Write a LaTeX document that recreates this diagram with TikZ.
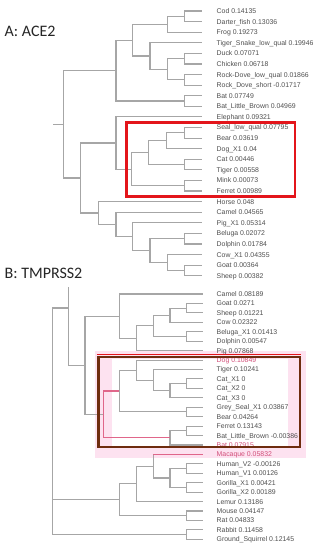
\documentclass[tikz,border=0pt]{standalone}
\usepackage{fontspec}
\setmainfont{Liberation Sans}
\newfontfamily\ttlfont{Carlito}
\definecolor{lngray}{HTML}{A6A6A6}
\definecolor{txt}{HTML}{505050}
\definecolor{pinkln}{HTML}{E0668A}
\definecolor{pinktx}{HTML}{D2507A}
\definecolor{pinkbg}{HTML}{FDE2F0}
\definecolor{boxred}{HTML}{E3151B}
\definecolor{boxbrown}{HTML}{6E2C0E}
\tikzset{
  br/.style={draw=lngray,line width=1.1pt},
  pk/.style={draw=pinkln,line width=1.1pt},
  lab/.style={anchor=west,font=\fontsize{6.9}{7}\selectfont,text=txt,inner sep=0pt,text height=5pt,text depth=0pt},
  ttl/.style={anchor=base west,font=\ttlfont\fontsize{16}{16}\selectfont,text=black!85,inner sep=0pt},
}
\newcommand\leafA[3]{\coordinate (#1) at (202,#2); \node[lab] (#1t) at (216.5,#2) {#3};}
\newcommand\leafB[3]{\coordinate (#1) at (203.3,#2); \node[lab] (#1t) at (216.5,#2) {#3};}
\newcommand\leafBp[3]{\coordinate (#1) at (203.3,#2); \node[lab,text=pinktx] (#1t) at (216.5,#2) {#3};}
\newcommand\edg[2]{\draw[br] (#1) |- (#2);}
\begin{document}
\begin{tikzpicture}[x=1pt,y=-1pt]
\fill[white] (0,0) rectangle (320,550);
\useasboundingbox (0,0) rectangle (320,550);
% pink highlight of B
\fill[pinkbg] (95,351) rectangle (306,458);
\fill[white] (112,359) rectangle (288,446);
% titles
\node[ttl] (tA) at (4.5,36) {A: ACE2};
\node[ttl] (tB) at (4.5,278) {B: TMPRSS2};
% ---------------- Tree A leaves
\leafA{a1}{11}{Cod 0.14135}
\leafA{a2}{21.59}{Darter\_fish 0.13036}
\leafA{a3}{32.18}{Frog 0.19273}
\leafA{a4}{42.77}{Tiger\_Snake\_low\_qual 0.19946}
\leafA{a5}{53.36}{Duck 0.07071}
\leafA{a6}{63.95}{Chicken 0.06718}
\leafA{a7}{74.54}{Rock-Dove\_low\_qual 0.01866}
\leafA{a8}{85.13}{Rock\_Dove\_short -0.01717}
\leafA{a9}{95.72}{Bat 0.07749}
\leafA{a10}{106.31}{Bat\_Little\_Brown 0.04969}
\leafA{a11}{116.9}{Elephant 0.09321}
\leafA{a12}{127.49}{Seal\_low\_qual 0.07795}
\leafA{a13}{138.08}{Bear 0.03619}
\leafA{a14}{148.67}{Dog\_X1 0.04}
\leafA{a15}{159.26}{Cat 0.00446}
\leafA{a16}{169.85}{Tiger 0.00558}
\leafA{a17}{180.44}{Mink 0.00073}
\leafA{a18}{191.03}{Ferret 0.00989}
\leafA{a19}{201.62}{Horse 0.048}
\leafA{a20}{212.21}{Camel 0.04565}
\leafA{a21}{222.8}{Pig\_X1 0.05314}
\leafA{a22}{233.39}{Beluga 0.02072}
\leafA{a23}{243.98}{Dolphin 0.01784}
\leafA{a24}{254.57}{Cow\_X1 0.04355}
\leafA{a25}{265.16}{Goat 0.00364}
\leafA{a26}{275.75}{Sheep 0.00382}
% Tree A internal nodes
\coordinate (nA1) at (184.3,16.3);
\coordinate (nA2) at (167.7,24.24);
\coordinate (nA3) at (184.3,58.66);
\coordinate (nA4) at (184.3,79.84);
\coordinate (nA5) at (167.7,69.25);
\coordinate (nA6) at (150,56.01);
\coordinate (nA7) at (132.7,40.12);
\coordinate (nA8) at (184.3,101.0);
\coordinate (nA9) at (116,70.57);
\coordinate (nA10) at (184.3,132.78);
\coordinate (nA11) at (166.7,140.73);
\coordinate (nA12) at (184.3,164.55);
\coordinate (nA13) at (148.3,152.64);
\coordinate (nA14) at (184.3,185.73);
\coordinate (nA15) at (131.7,169.19);
\coordinate (nA16) at (116,143.04);
\coordinate (nA17) at (184.3,238.68);
\coordinate (nA18) at (184.3,270.45);
\coordinate (nA19) at (167.7,262.51);
\coordinate (nA20) at (150,250.6);
\coordinate (nA21) at (132.7,236.7);
\coordinate (nA22) at (116,224.45);
\coordinate (nA23) at (98.3,213.04);
\coordinate (nA24) at (80.7,178.04);
\coordinate (rA) at (63.3,124.3);
\coordinate (rAs) at (53.3,124.3);
% Tree A edges
\edg{nA1}{a1}\edg{nA1}{a2}
\edg{nA2}{nA1}\edg{nA2}{a3}
\edg{nA3}{a5}\edg{nA3}{a6}
\edg{nA4}{a7}\edg{nA4}{a8}
\edg{nA5}{nA3}\edg{nA5}{nA4}
\edg{nA6}{a4}\edg{nA6}{nA5}
\edg{nA7}{nA2}\edg{nA7}{nA6}
\edg{nA8}{a9}\edg{nA8}{a10}
\edg{nA9}{nA7}\edg{nA9}{nA8}
\edg{nA10}{a12}\edg{nA10}{a13}
\edg{nA11}{nA10}\edg{nA11}{a14}
\edg{nA12}{a15}\edg{nA12}{a16}
\edg{nA13}{nA11}\edg{nA13}{nA12}
\edg{nA14}{a17}\edg{nA14}{a18}
\edg{nA15}{nA13}\edg{nA15}{nA14}
\edg{nA16}{a11}\edg{nA16}{nA15}
\edg{nA17}{a22}\edg{nA17}{a23}
\edg{nA18}{a25}\edg{nA18}{a26}
\edg{nA19}{a24}\edg{nA19}{nA18}
\edg{nA20}{nA17}\edg{nA20}{nA19}
\edg{nA21}{a21}\edg{nA21}{nA20}
\edg{nA22}{a20}\edg{nA22}{nA21}
\edg{nA23}{a19}\edg{nA23}{nA22}
\edg{nA24}{nA16}\edg{nA24}{nA23}
\edg{rA}{nA9}\edg{rA}{nA24}
\draw[br] (rAs) -- (rA);
% ---------------- Tree B leaves
\leafB{b1}{294}{Camel 0.08189}
\leafB{b2}{303.44}{Goat 0.0271}
\leafB{b3}{312.87}{Sheep 0.01221}
\leafB{b4}{322.31}{Cow 0.02322}
\leafB{b5}{331.74}{Beluga\_X1 0.01413}
\leafB{b6}{341.18}{Dolphin 0.00547}
\leafB{b7}{350.61}{Pig 0.07868}
\leafBp{b8}{360.05}{Dog 0.10849}
\leafB{b9}{369.48}{Tiger 0.10241}
\leafB{b10}{378.92}{Cat\_X1 0}
\leafB{b11}{388.35}{Cat\_X2 0}
\leafB{b12}{397.79}{Cat\_X3 0}
\leafB{b13}{407.22}{Grey\_Seal\_X1 0.03867}
\leafB{b14}{416.66}{Bear 0.04264}
\leafB{b15}{426.09}{Ferret 0.13143}
\leafB{b16}{435.53}{Bat\_Little\_Brown -0.00386}
\leafBp{b17}{444.96}{Bat 0.07915}
\leafBp{b18}{454.4}{Macaque 0.05832}
\leafB{b19}{463.83}{Human\_V2 -0.00126}
\leafB{b20}{473.27}{Human\_V1 0.00126}
\leafB{b21}{482.7}{Gorilla\_X1 0.00421}
\leafB{b22}{492.14}{Gorilla\_X2 0.00189}
\leafB{b23}{501.57}{Lemur 0.13186}
\leafB{b24}{511.01}{Mouse 0.04147}
\leafB{b25}{520.44}{Rat 0.04833}
\leafB{b26}{529.88}{Rabbit 0.11458}
\leafB{b27}{539.31}{Ground\_Squirrel 0.12145}
% Tree B internal nodes
\coordinate (nB1) at (186.7,308.16);
\coordinate (nB2) at (170,315.23);
\coordinate (nB3) at (186.7,336.46);
\coordinate (nB4) at (153.3,325.85);
\coordinate (nB5) at (136.7,338.23);
\coordinate (nB6) at (119.3,316.12);
\coordinate (nB7) at (186.7,383.64);
\coordinate (nB8) at (170,390.71);
\coordinate (nB9) at (153.3,380.1);
\coordinate (nB10) at (136.2,370.07);
\coordinate (nB11) at (186.7,411.94);
\coordinate (nB12) at (119.3,391.0);
\coordinate (nB13) at (186.7,430.81);
\coordinate (nB14) at (170,437.89);
\coordinate (nB15) at (103.3,414.45);
\coordinate (nB16) at (85,365.28);
\coordinate (nB17) at (68.3,308);
\coordinate (nB17t) at (68.3,287.3);
\coordinate (nB18) at (186.7,468.55);
\coordinate (nB19) at (186.7,487.42);
\coordinate (nB20) at (170,477.99);
\coordinate (nB21) at (153.3,466.2);
\coordinate (nB22) at (136.7,483.88);
\coordinate (nB23) at (186.7,515.73);
\coordinate (nB24) at (119.3,499.8);
\coordinate (nB25) at (186.7,534.6);
\coordinate (rB) at (52.3,308);
% Tree B edges
\edg{nB1}{b2}\edg{nB1}{b3}
\edg{nB2}{nB1}\edg{nB2}{b4}
\edg{nB3}{b5}\edg{nB3}{b6}
\edg{nB4}{nB2}\edg{nB4}{nB3}
\edg{nB5}{nB4}\edg{nB5}{b7}
\edg{nB6}{b1}\edg{nB6}{nB5}
\edg{nB7}{b10}\edg{nB7}{b11}
\edg{nB8}{nB7}\edg{nB8}{b12}
\edg{nB9}{b9}\edg{nB9}{nB8}
\edg{nB10}{b8}\edg{nB10}{nB9}
\edg{nB11}{b13}\edg{nB11}{b14}
\edg{nB12}{nB10}\edg{nB12}{nB11}
\edg{nB13}{b15}\edg{nB13}{b16}
\edg{nB14}{nB13}\edg{nB14}{b17}
\draw[pk] (nB15) |- (nB12);
\draw[pk] (nB15) |- (nB14);
\edg{nB16}{nB6}\edg{nB16}{nB15}
\draw[br] (nB17t) -- (nB17);
\edg{nB17}{nB16}
\edg{nB18}{b19}\edg{nB18}{b20}
\edg{nB19}{b21}\edg{nB19}{b22}
\edg{nB20}{nB18}\edg{nB20}{nB19}
\draw[br] (nB21) -- (nB21 |- b18);
\draw[pk] (nB21 |- b18) -- (b18);
\edg{nB21}{nB20}
\edg{nB22}{nB21}\edg{nB22}{b23}
\edg{nB23}{b24}\edg{nB23}{b25}
\edg{nB24}{nB22}\edg{nB24}{nB23}
\edg{nB25}{b26}\edg{nB25}{b27}
\draw[br] (rB) -- (nB17);
\edg{rB}{nB24}\edg{rB}{nB25}
% highlight boxes
\draw[boxred,line width=2.6pt] (126.7,122.7) rectangle (295,196.7);
\draw[boxbrown,line width=2.8pt] (98.3,357) rectangle (300,447);
\draw[boxred,line width=1.2pt] (96.9,354.6) -- (301.4,354.6);
\end{tikzpicture}
\end{document}
